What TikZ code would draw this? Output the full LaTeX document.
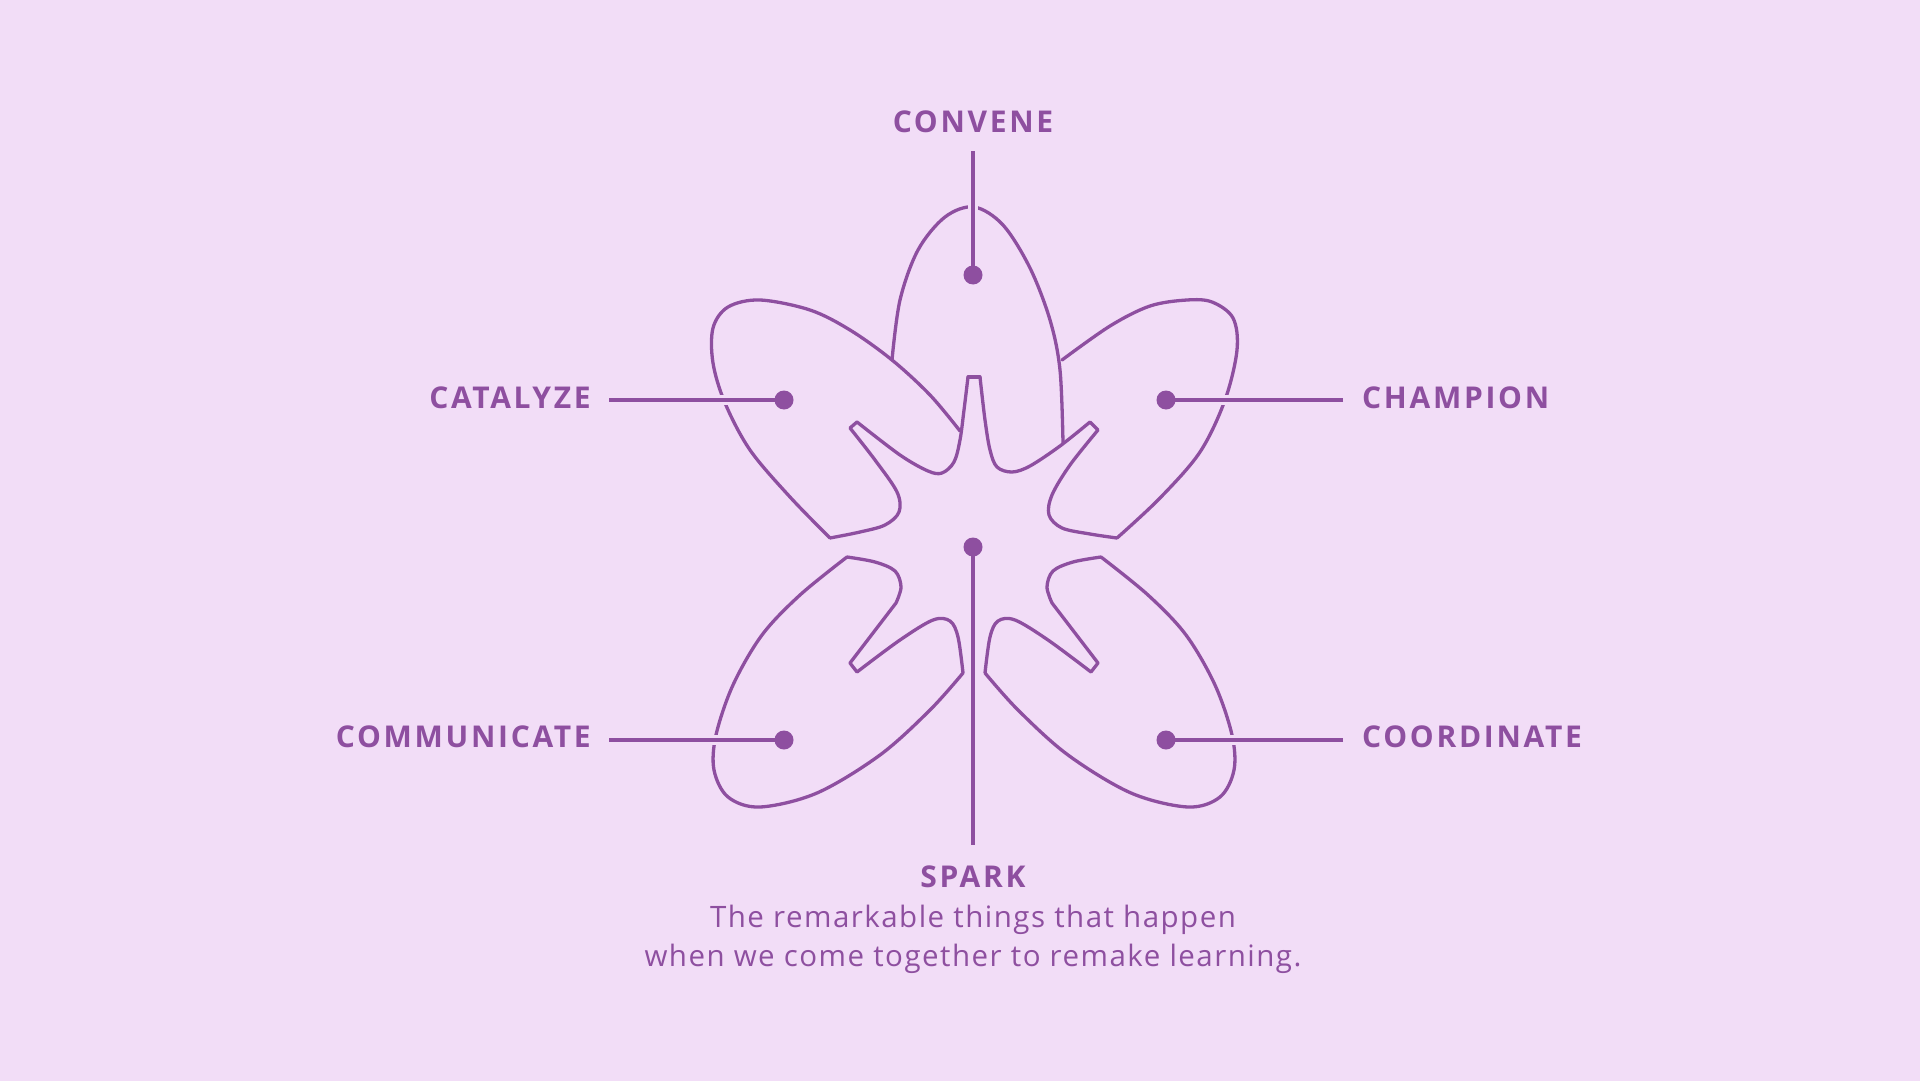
\documentclass[tikz,border=0pt]{standalone}
\usepackage{fontspec}
\setmainfont{Open Sans}
\newfontfamily\labfont[LetterSpace=9]{Open Sans}
\newfontfamily\bodyfont[LetterSpace=5]{Open Sans}
\definecolor{bg}{HTML}{F2DDF7}
\definecolor{pu}{HTML}{8E4FA0}
\begin{document}
\begin{tikzpicture}[x=1pt,y=-1pt,
  outl/.style={draw=pu,line width=3.3pt,line join=round,line cap=round},
  conn/.style={draw=pu,line width=3.3pt,preaction={draw=bg,line width=10pt}},
  dotn/.style={circle,fill=pu,inner sep=0pt,minimum size=19pt},
  lab/.style={text=pu,font=\labfont\bfseries\fontsize{30}{36}\selectfont,inner sep=0pt},
  body/.style={text=pu,font=\bodyfont\fontsize{29.5}{39}\selectfont,align=center,inner sep=0pt}]
\fill[bg] (0,0) rectangle (1920,1081);
\useasboundingbox (0,0) rectangle (1920,1081);
% star left + left petal
\draw[outl] plot[smooth,tension=0.55] coordinates {(968,377) (964,410) (960,440) (954,462) (942,473) (928,471) (900,455) (857,422)} -- (850,428)
  plot[smooth,tension=0.55] coordinates {(850,428) (875,460) (897,492) (899,512) (885,525) (860,532) (830,538)};
\draw[outl] plot[smooth,tension=0.55] coordinates {(830,538) (790,497) (750,450) (725,403) (713,363) (713,328) (728,307) (760,300) (810,310) (850,330) (892,360) (930,395) (960,431)};
% top petal
\draw[outl] plot[smooth,tension=0.55] coordinates {(892,360) (900,300) (918,250) (945,217) (974,207) (1003,225) (1030,268) (1050,320) (1060,370) (1063,443)};
% star right + right petal
\draw[outl] (968,377) -- (980,377);
\draw[outl] plot[smooth,tension=0.55] coordinates {(980,377) (985,420) (990,450) (997,467) (1012,472) (1030,466) (1060,446) (1090,422)} -- (1098,430)
  plot[smooth,tension=0.55] coordinates {(1098,430) (1070,465) (1052,495) (1049,515) (1062,528) (1090,534) (1117,538)};
\draw[outl] plot[smooth,tension=0.55] coordinates {(1117,538) (1160,498) (1200,452) (1225,400) (1237,350) (1233,318) (1212,302) (1187,300) (1150,306) (1110,326) (1062,360)};
% lower petals
\foreach \s in {1,-1}{
\begin{scope}[shift={(974,0)},xscale=\s,shift={(-974,0)}]
\draw[outl] plot[smooth,tension=0.55] coordinates {(847,557) (875,562) (895,571) (901,587) (896,603)} -- (850,663) -- (857,672)
  plot[smooth,tension=0.55] coordinates {(857,672) (900,640) (933,620) (950,621) (958,637) (963,673)}
  plot[smooth,tension=0.55] coordinates {(963,673) (930,710) (880,755) (817,793) (760,807) (728,797) (714,770) (716,735) (733,685) (762,635) (800,595) (847,557)};
\end{scope}}
% dot positions
\coordinate (ptop) at (973,275);
\coordinate (pcat) at (784,400);
\coordinate (pcha) at (1166,400);
\coordinate (pcom) at (784,740);
\coordinate (pcoo) at (1166,740);
\coordinate (pctr) at (973,547);
\coordinate (ctop) at (973,151);
\coordinate (ccat) at (609,400);
\coordinate (ccha) at (1343,400);
\coordinate (ccom) at (609,740);
\coordinate (ccoo) at (1343,740);
\coordinate (cbot) at (973,845);
\draw[conn] (ctop) -- (ptop);
\draw[conn] (ccat) -- (pcat);
\draw[conn] (ccha) -- (pcha);
\draw[conn] (ccom) -- (pcom);
\draw[conn] (ccoo) -- (pcoo);
\draw[draw=pu,line width=3.3pt] (pctr) -- (cbot);
\node[dotn] (dtop) at (ptop) {};
\node[dotn] (dcat) at (pcat) {};
\node[dotn] (dcha) at (pcha) {};
\node[dotn] (dcom) at (pcom) {};
\node[dotn] (dcoo) at (pcoo) {};
\node[dotn] (dctr) at (pctr) {};
% labels
\node[lab] (convene) at (973,122) {CONVENE};
\node[lab,anchor=east] (catalyze) at (591,398) {CATALYZE};
\node[lab,anchor=west] (champion) at (1362,398) {CHAMPION};
\node[lab,anchor=east] (communicate) at (591,737) {COMMUNICATE};
\node[lab,anchor=west] (coordinate) at (1362,737) {COORDINATE};
\node[lab] (spark) at (973,877) {SPARK};
\node[body,anchor=north] (desc) at (973,905) {The remarkable things that happen\\when we come together to remake learning.};
\end{tikzpicture}
\end{document}
